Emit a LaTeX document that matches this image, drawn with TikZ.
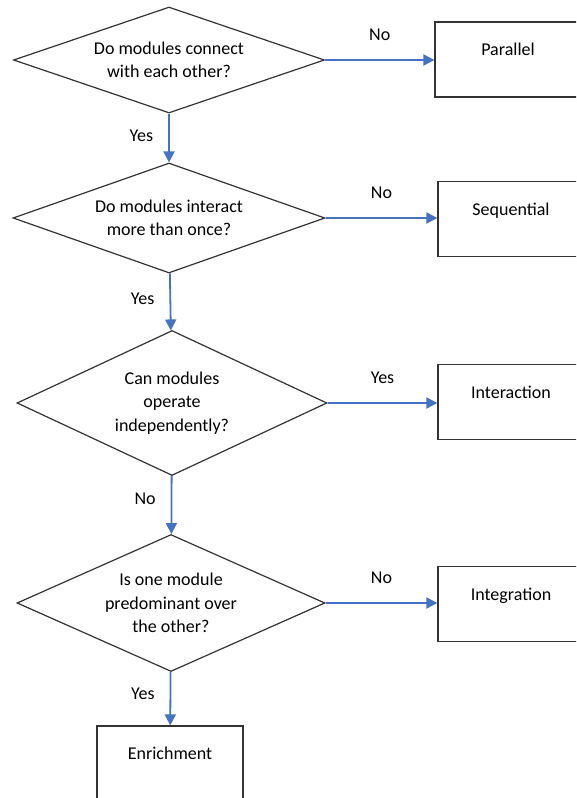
\documentclass[tikz,border=0pt]{standalone}
\usepackage{fontspec}
\setmainfont{Carlito}
\usetikzlibrary{arrows.meta}
\usetikzlibrary{positioning,shapes.geometric}
\definecolor{flowblue}{RGB}{68,114,196}

\begin{document}
\begin{tikzpicture}[x=1pt,y=-1pt,font=\fontsize{18}{23.5}\selectfont]
		\useasboundingbox (0,0) rectangle (576,798);
		\clip (0,0) rectangle (576,798);

		\begin{scope}[every node/.style={diamond,draw=black!80,line width=1.2pt,aspect=2.5,inner sep=0pt,align=center}]
			\node[minimum width=311pt,minimum height=106pt] (q1) at (169,60) {Do modules connect\\with each other?};
			\node[minimum width=312pt,minimum height=110pt] (q2) at (169,218) {Do modules interact\\more than once?};
			\node[minimum width=310pt,minimum height=145pt] (q3) at (172,403) {Can modules\\operate\\independently?};
			\node[minimum width=308pt,minimum height=137pt] (q4) at (171,603) {Is one module\\predominant over\\the other?};
		\end{scope}

		\begin{scope}[every node/.style={rectangle,draw=black!80,line width=1.2pt,minimum width=146pt,minimum height=75pt,text height=13pt,text depth=21pt}]
			\node (par) at (508,59.5) {Parallel};
			\node (seq) at (511,219) {Sequential};
			\node (inter) at (511,402) {Interaction};
			\node (integ) at (511,604) {Integration};
			\node (enr) at (170,763.5) {Enrichment};
		\end{scope}

		\begin{scope}[>={Triangle[length=11pt,width=11pt]},every edge/.style={draw=flowblue,line width=1.8pt},lbl/.style={inner sep=0pt,text=black}]
			\path (q1.east) edge[->] node[lbl,midway,above=18pt] {No} (q1.east -| par.west);
			\path (q2.east) edge[->] node[lbl,midway,above=18pt] {No} (q2.east -| seq.west);
			\path (q3.east) edge[->] node[lbl,midway,above=18pt] {Yes} (q3.east -| inter.west);
			\path (q4.east) edge[->] node[lbl,midway,above=18pt] {No} (q4.east -| integ.west);
			\path (q1) edge[->] node[lbl,pos=0.45,left=15pt] {Yes} (q2);
			\path (q2) edge[->] node[lbl,pos=0.45,left=15pt] {Yes} (q3);
			\path (q3) edge[->] node[lbl,pos=0.4,left=15pt] {No} (q4);
			\path (q4) edge[->] node[lbl,pos=0.4,left=15pt] {Yes} (enr);
		\end{scope}
	\end{tikzpicture}
\end{document}
